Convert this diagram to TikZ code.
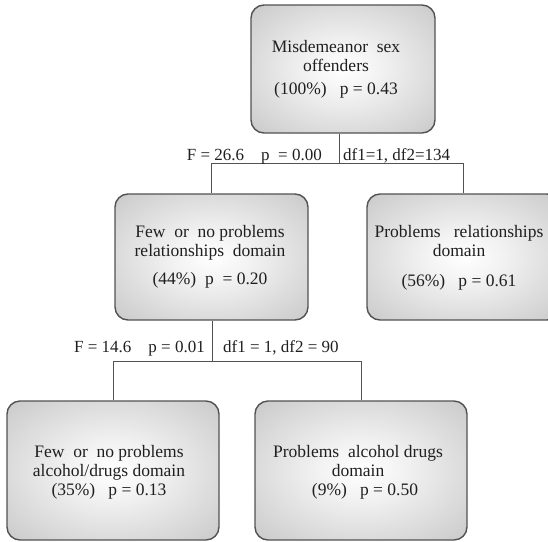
\documentclass[tikz,border=0pt]{standalone}
\usepackage{fontspec}
\setmainfont{Liberation Serif}
\pgfdeclareradialshading{boxshade}{\pgfpoint{0bp}{0bp}}{color(0bp)=(white); color(10bp)=(white!95!black); color(50bp)=(black!30); color(72bp)=(black!40)}
\tikzset{
  box/.style={draw=black!68, line width=1.4pt, rounded corners=13pt, shade, shading=boxshade, inner sep=0pt},
  txt/.style={align=center, inner sep=0pt, text=black!88, font=\fontsize{17.5}{19}\selectfont},
  conn/.style={draw=black!68, line width=1pt},
  lbl/.style={inner sep=0pt, text=black!88, font=\fontsize{17}{19}\selectfont}
}
\begin{document}
\begin{tikzpicture}[x=1pt,y=-1pt]
\useasboundingbox (0,0) rectangle (548,541);
% boxes
\node[box, minimum width=184pt, minimum height=128pt] (top) at (343,69) {};
\node[box, minimum width=193pt, minimum height=126pt] (midL) at (211.5,257) {};
\node[box, minimum width=193pt, minimum height=126pt] (midR) at (463.5,257) {};
\node[box, minimum width=212pt, minimum height=139pt] (botL) at (113,470.5) {};
\node[box, minimum width=212pt, minimum height=139pt] (botR) at (361,470.5) {};
% texts
\node[txt] (topT) at (336,69) {Misdemeanor\ \ sex\\offenders\\[4pt](100\%)\ \ \ p = 0.43};
\node[txt] (midLT) at (210,257) {Few\ \ or\ \ no\ problems\\relationships\ \ domain\hspace*{12pt}\\[9pt](44\%)\ \ p\ \ = 0.20};
\node[txt] (midRT) at (459,258) {Problems\ \ \ relationships\\domain\\[11pt](56\%)\ \ \ p = 0.61};
\node[txt] (botLT) at (109,472) {Few\ \ or\ \ no problems\\alcohol/drugs domain\\(35\%)\ \ \ p = 0.13};
\node[txt] (botRT) at (358,472) {Problems\ \ alcohol drugs\\domain\hspace*{8pt}\\\hspace*{14pt}(9\%)\ \ \ p = 0.50};
% connectors
\coordinate (j1) at (339,163);
\coordinate (j2) at (212,361);
\draw[conn] (top.south -| j1) -- (j1);
\draw[conn] (midL.north) -- (midL.north |- j1) -- (midR.north |- j1) -- (midR.north);
\draw[conn] (midL.south -| j2) -- (j2);
\draw[conn] (botL.north) -- (botL.north |- j2) -- (botR.north |- j2) -- (botR.north);
% labels
\node[lbl, anchor=base east] (l1) at (322,160) {F = 26.6\ \ \ \ p\ \ = 0.00};
\node[lbl, anchor=base west] (l2) at (343,160) {df1=1, df2=134};
\node[lbl, anchor=base east] (l3) at (205,352) {F = 14.6\ \ \ \ p = 0.01};
\node[lbl, anchor=base west] (l4) at (223,352) {df1 = 1, df2 = 90};
\end{tikzpicture}
\end{document}
